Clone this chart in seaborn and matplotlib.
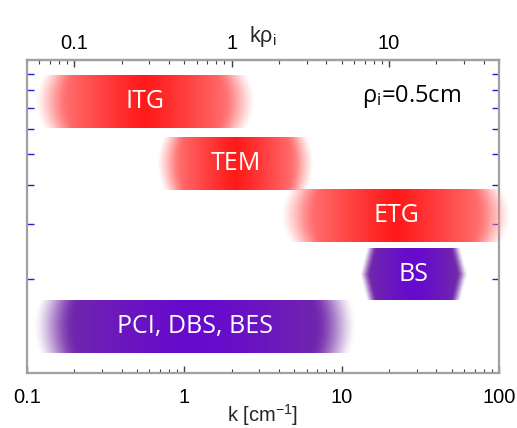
import numpy as np
import matplotlib
matplotlib.use("Agg")
import matplotlib.pyplot as plt
import seaborn as sns
from matplotlib.ticker import LogLocator, NullFormatter, FixedLocator, FixedFormatter

# band data
names = ["ITG", "TEM", "ETG", "BS", "PCI, DBS, BES"]
k_low = [0.112, 0.67, 4.1, 13.0, 0.109]
k_high = [2.85, 6.7, 120.0, 63.5, 12.6]
row_top = [8.97, 5.66, 3.88, 2.50, 1.71]
row_bottom = [6.06, 3.85, 2.62, 1.71, 1.16]
kinds = ["red", "red", "red", "hex", "flat"]
rho_i = 0.5

x_ticks = [0.1, 1, 10, 100]
x_ticklabels = ["0.1", "1", "10", "100"]
top_ticks = [0.1, 1, 10]
top_ticklabels = ["0.1", "1", "10"]

sns.set_theme(style="white")
plt.rcParams["font.family"] = ["Liberation Sans", "DejaVu Sans"]
plt.rcParams["mathtext.default"] = "regular"


def smooth(t):
    t = np.clip(t, 0, 1)
    return t * t * (3 - 2 * t)


def band_rgba(kind, nx=320, ny=60):
    u = np.linspace(-1, 1, nx)
    v = np.linspace(-1, 1, ny)
    U, V = np.meshgrid(u, v)
    A = np.abs(U)
    rgba = np.ones((ny, nx, 4))
    if kind == "red":
        edge = 1 - 0.07 * V ** 2
        alpha = smooth((edge - A) / 0.3) ** 0.7
        w = 0.10 + 0.40 * np.clip(A / 0.85, 0, 1) ** 1.2
        rgba[..., 0] = 1.0
        rgba[..., 1] = w
        rgba[..., 2] = w
    else:
        if kind == "hex":
            edge = 1 - 0.12 * np.abs(V)
            alpha = smooth((edge - A) / 0.2) ** 0.8
        else:
            edge = 1 - 0.03 * V ** 2
            alpha = smooth((edge - A) / 0.26) ** 0.8
        m = np.clip(A / 0.9, 0, 1) ** 1.5
        rgba[..., 0] = 0.40 + 0.05 * m
        rgba[..., 1] = 0.04 + 0.14 * m
        rgba[..., 2] = 0.80 - 0.16 * m
    rgba[..., 3] = alpha
    return rgba


fig = plt.figure(figsize=(5.17, 4.28), dpi=100)
ax = fig.add_axes([0.0522, 0.1285, 0.9128, 0.7315])
ax.set_xscale("log")
ax.set_yscale("log")
ax.set_xlim(0.1, 100)
ax.set_ylim(1, 10)

for name, kl, kh, yt, yb, kind in zip(names, k_low, k_high, row_top, row_bottom, kinds):
    rgba = band_rgba(kind)
    ny, nx = rgba.shape[:2]
    xe = np.logspace(np.log10(kl), np.log10(kh), nx + 1)
    ye = np.logspace(np.log10(yt), np.log10(yb), ny + 1)
    ax.pcolormesh(xe, ye, rgba, shading="flat", edgecolors="none",
                  antialiased=False, clip_on=False, zorder=3)
    xc = np.sqrt(kl * kh)
    yc = np.sqrt(yt * yb)
    ax.text(xc, yc, name, color="white", fontsize=18, family=["Open Sans", "DejaVu Sans"],
            ha="center", va="center", zorder=4)

ax.text(0.816, 0.882, "ρ$_i$=0.5cm", transform=ax.transAxes, fontsize=17,
        family=["Open Sans", "DejaVu Sans"], ha="center", va="center", color="black")

for s in ax.spines.values():
    s.set_color("#a0a0a0")
    s.set_linewidth(1.6)
    s.set_zorder(2)

ax.xaxis.set_major_locator(FixedLocator(x_ticks))
ax.xaxis.set_major_formatter(FixedFormatter(x_ticklabels))
ax.xaxis.set_minor_locator(LogLocator(base=10, subs=np.arange(2, 10), numticks=20))
ax.xaxis.set_minor_formatter(NullFormatter())
ax.tick_params(axis="x", which="both", direction="in", bottom=True, top=False,
               colors="#404040", labelsize=14.5, pad=11, labelcolor="black")
ax.tick_params(axis="x", which="major", length=5, width=1)
ax.tick_params(axis="x", which="minor", length=3, width=0.8)

ax.yaxis.set_minor_locator(LogLocator(base=10, subs=np.arange(2, 10), numticks=20))
ax.yaxis.set_minor_formatter(NullFormatter())
ax.yaxis.set_major_formatter(NullFormatter())
ax.tick_params(axis="y", which="major", length=0, left=False, right=False)
ax.tick_params(axis="y", which="minor", direction="in", left=True, right=True,
               length=5, width=1, color="#2020d0")

ax.set_xlabel("k [cm$^{-1}$]", fontsize=14.5, labelpad=-4)

top = ax.secondary_xaxis("top", functions=(lambda k: k * rho_i, lambda q: q / rho_i))
top.xaxis.set_major_locator(FixedLocator(top_ticks))
top.xaxis.set_major_formatter(FixedFormatter(top_ticklabels))
top.xaxis.set_minor_locator(LogLocator(base=10, subs=np.arange(2, 10), numticks=20))
top.xaxis.set_minor_formatter(NullFormatter())
top.tick_params(axis="x", which="both", direction="in", colors="#404040",
                labelsize=14.5, pad=5, labelcolor="black")
top.tick_params(axis="x", which="major", length=5, width=1)
top.tick_params(axis="x", which="minor", length=3, width=0.8)
top.spines["top"].set_color("#a0a0a0")
top.spines["top"].set_linewidth(1.6)
top.set_xlabel("kρ$_i$", fontsize=15.5, labelpad=-6)

fig.savefig("out.png", dpi=100)
